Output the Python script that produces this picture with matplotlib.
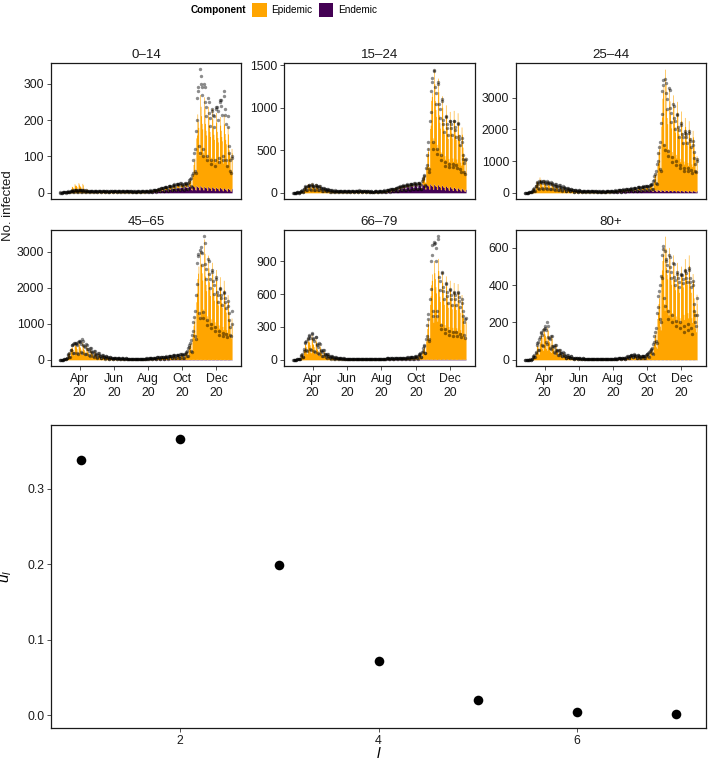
import matplotlib
matplotlib.use('Agg')
import matplotlib.pyplot as plt
import matplotlib.dates as mdates
from matplotlib.patches import Patch
from matplotlib.ticker import FormatStrFormatter
import numpy as np
import pandas as pd

plt.rcParams.update({
    'font.family': 'Liberation Sans',
    'mathtext.fontset': 'custom',
    'mathtext.it': 'Liberation Sans:italic',
    'mathtext.rm': 'Liberation Sans',
})

# ------------------------------------------------------------
# Data. Daily series start on first_day,
# one row per week (Wed..Tue). Endemic part starts on endemic_from.
# ------------------------------------------------------------
first_day = '2020-02-26'
endemic_from = '2020-07-29'

age_groups = ['0–14', '15–24', '25–44', '45–65', '66–79', '80+']
y_breaks = [[0, 100, 200, 300], [0, 500, 1000, 1500], [0, 1000, 2000, 3000],
            [0, 1000, 2000, 3000], [0, 300, 600, 900], [0, 200, 400, 600]]

obs_0_14 = [
    [0, 1, 0, 0, 0, 1, 1], [1, 2, 2, 1, 0, 2, 3], [3, 4, 3, 2, 1, 4, 5], [6, 7, 5, 3, 2, 8, 7],
    [8, 7, 6, 3, 3, 9, 8], [7, 8, 7, 3, 2, 8, 8], [6, 7, 5, 2, 3, 7, 6], [6, 5, 5, 2, 2, 6, 6],
    [5, 4, 4, 2, 2, 5, 5], [4, 5, 4, 2, 1, 5, 5], [5, 4, 4, 2, 2, 5, 4], [4, 5, 4, 2, 2, 5, 5],
    [4, 4, 3, 1, 2, 4, 4], [5, 4, 4, 2, 1, 5, 5], [4, 5, 4, 2, 2, 5, 5], [5, 5, 4, 2, 2, 5, 5],
    [5, 4, 4, 2, 2, 6, 5], [4, 5, 4, 2, 1, 5, 5], [4, 4, 3, 2, 1, 4, 4], [4, 3, 3, 1, 2, 4, 4],
    [4, 4, 3, 2, 1, 4, 4], [5, 4, 4, 2, 2, 5, 5], [5, 5, 4, 2, 2, 6, 5], [7, 6, 6, 3, 2, 7, 7],
    [9, 8, 7, 4, 3, 9, 9], [11, 11, 10, 5, 4, 12, 12], [14, 13, 12, 6, 5, 15, 15],
    [17, 16, 14, 7, 6, 18, 18], [19, 18, 16, 8, 7, 20, 21], [23, 22, 19, 10, 8, 24, 24],
    [25, 23, 21, 10, 9, 26, 27], [24, 22, 20, 10, 9, 25, 26], [27, 25, 22, 11, 10, 28, 30],
    [36, 38, 40, 18, 16, 50, 55], [90, 110, 120, 60, 55, 170, 200],
    [260, 280, 290, 130, 110, 340, 320], [300, 290, 270, 120, 100, 300, 290],
    [250, 235, 210, 100, 90, 260, 250], [220, 205, 185, 90, 80, 230, 225],
    [215, 210, 180, 90, 75, 235, 230], [235, 225, 200, 95, 85, 255, 250],
    [255, 240, 215, 100, 90, 280, 265], [230, 215, 190, 90, 75, 210, 180],
    [130, 110, 90, 60, 55, 100, 95],
]
epi_0_14 = [
    [0, 0, 0, 0, 0, 1, 0], [1, 1, 1, 1, 0, 2, 2], [5, 5, 4, 3, 2, 8, 7], [18, 17, 15, 8, 7, 25, 21],
    [21, 20, 17, 9, 8, 28, 24], [20, 18, 16, 8, 7, 26, 22], [9, 8, 7, 4, 3, 12, 10],
    [5, 5, 4, 2, 2, 7, 6], [4, 4, 3, 2, 1, 5, 4], [4, 3, 3, 2, 1, 5, 4], [4, 4, 3, 2, 1, 5, 4],
    [4, 3, 3, 1, 1, 5, 4], [3, 3, 2, 1, 1, 4, 3], [4, 3, 3, 1, 1, 5, 4], [4, 4, 3, 2, 1, 5, 4],
    [4, 3, 3, 2, 1, 5, 4], [4, 4, 3, 1, 1, 5, 4], [4, 3, 3, 1, 1, 5, 4], [3, 3, 2, 1, 1, 4, 3],
    [3, 3, 2, 1, 1, 4, 3], [3, 3, 2, 1, 1, 4, 3], [4, 3, 3, 1, 1, 5, 4], [4, 4, 3, 2, 1, 5, 4],
    [4, 4, 4, 2, 2, 6, 5], [5, 5, 4, 2, 2, 7, 6], [6, 6, 5, 2, 2, 8, 7], [6, 6, 5, 2, 2, 8, 7],
    [7, 6, 5, 3, 2, 9, 8], [7, 7, 6, 3, 3, 10, 8], [8, 7, 6, 3, 3, 10, 9], [7, 7, 6, 3, 3, 10, 8],
    [8, 7, 6, 3, 3, 10, 9], [9, 8, 7, 4, 3, 12, 10], [15, 17, 18, 9, 8, 30, 30],
    [60, 70, 80, 50, 48, 130, 140], [200, 180, 165, 105, 95, 250, 220],
    [196, 176, 162, 103, 93, 245, 216], [176, 158, 145, 92, 84, 220, 194],
    [172, 155, 142, 90, 82, 215, 189], [164, 148, 135, 86, 78, 205, 180],
    [156, 140, 129, 82, 74, 195, 172], [160, 144, 132, 84, 76, 200, 176],
    [152, 137, 125, 80, 72, 170, 150], [110, 100, 90, 60, 55, 110, 100],
]
end_0_14 = [
    [2, 2, 1, 1, 1, 2, 2], [3, 2, 2, 1, 1, 3, 3], [4, 4, 4, 2, 2, 5, 4], [6, 6, 5, 3, 3, 7, 6],
    [8, 7, 7, 4, 4, 9, 8], [9, 9, 8, 5, 4, 11, 10], [11, 10, 10, 6, 5, 13, 12],
    [13, 12, 11, 7, 6, 15, 14], [14, 14, 13, 8, 7, 17, 15], [16, 15, 14, 9, 8, 19, 17],
    [17, 16, 15, 9, 8, 20, 18], [18, 17, 16, 9, 8, 21, 19], [18, 17, 16, 9, 8, 21, 19],
    [17, 16, 15, 9, 8, 20, 18], [16, 15, 14, 9, 8, 19, 17], [15, 14, 14, 8, 7, 18, 16],
    [14, 14, 13, 8, 7, 17, 15], [14, 13, 12, 7, 6, 16, 14], [13, 12, 11, 7, 6, 15, 14],
    [12, 11, 11, 6, 6, 14, 13], [11, 10, 10, 6, 5, 13, 12], [10, 10, 9, 5, 5, 12, 11],
]

obs_15_24 = [
    [0, 1, 0, 0, 0, 1, 1], [4, 5, 4, 2, 2, 6, 5], [20, 25, 28, 15, 14, 40, 45],
    [70, 75, 68, 35, 30, 85, 80], [90, 88, 78, 40, 35, 95, 98], [85, 82, 72, 38, 32, 92, 88],
    [76, 72, 64, 32, 28, 80, 78], [57, 54, 48, 24, 21, 60, 58], [43, 40, 36, 18, 16, 45, 44],
    [33, 32, 28, 14, 12, 35, 34], [27, 25, 22, 11, 10, 28, 27], [24, 22, 20, 10, 9, 25, 24],
    [21, 20, 18, 9, 8, 22, 21], [19, 18, 16, 8, 7, 20, 20], [21, 20, 18, 9, 8, 22, 22],
    [24, 22, 20, 10, 9, 25, 25], [27, 25, 22, 11, 10, 28, 27], [24, 22, 20, 10, 9, 25, 24],
    [19, 18, 16, 8, 7, 20, 20], [17, 16, 14, 7, 6, 18, 18], [15, 14, 13, 6, 6, 16, 16],
    [17, 16, 14, 7, 6, 18, 18], [21, 20, 18, 9, 8, 22, 22], [28, 27, 24, 12, 10, 30, 30],
    [38, 36, 32, 16, 14, 40, 40], [48, 45, 40, 20, 18, 50, 50], [62, 58, 52, 26, 23, 65, 65],
    [76, 72, 64, 32, 28, 80, 80], [90, 86, 76, 38, 33, 95, 95], [100, 94, 84, 42, 37, 105, 105],
    [109, 104, 92, 46, 40, 115, 115], [109, 104, 92, 46, 40, 115, 118],
    [114, 108, 96, 48, 42, 140, 160], [180, 200, 210, 95, 85, 290, 330],
    [450, 520, 600, 280, 250, 850, 950], [1200, 1300, 1350, 600, 520, 1450, 1430],
    [1240, 1170, 1040, 520, 455, 1300, 1280], [1045, 990, 880, 440, 385, 1100, 1080],
    [855, 810, 720, 360, 315, 900, 890], [810, 765, 680, 340, 300, 850, 840],
    [810, 765, 680, 340, 300, 850, 840], [780, 740, 655, 330, 290, 820, 810],
    [665, 630, 560, 280, 245, 650, 600], [450, 400, 350, 250, 220, 390, 400],
]
epi_15_24 = [
    [1, 0, 0, 0, 0, 1, 1], [3, 3, 2, 1, 1, 4, 3], [25, 30, 30, 15, 14, 45, 50],
    [80, 78, 66, 33, 31, 110, 94], [90, 84, 72, 36, 34, 120, 102], [83, 77, 66, 33, 31, 110, 94],
    [71, 67, 57, 29, 27, 95, 81], [45, 42, 36, 18, 17, 60, 51], [34, 32, 27, 14, 13, 45, 38],
    [26, 25, 21, 11, 10, 35, 30], [21, 20, 17, 8, 8, 28, 24], [19, 18, 15, 8, 7, 25, 21],
    [17, 15, 13, 7, 6, 22, 19], [15, 14, 12, 6, 6, 20, 17], [17, 15, 13, 7, 6, 22, 19],
    [19, 18, 15, 8, 7, 25, 21], [21, 20, 17, 8, 8, 28, 24], [19, 18, 15, 8, 7, 25, 21],
    [15, 14, 12, 6, 6, 20, 17], [14, 13, 11, 5, 5, 18, 15], [12, 11, 10, 5, 4, 16, 14],
    [14, 13, 11, 5, 5, 18, 15], [15, 14, 12, 6, 6, 20, 17], [17, 15, 13, 7, 6, 22, 19],
    [19, 18, 15, 8, 7, 25, 21], [19, 18, 15, 8, 7, 25, 21], [19, 18, 15, 8, 7, 25, 21],
    [19, 18, 15, 8, 7, 25, 21], [19, 18, 15, 8, 7, 25, 21], [19, 18, 15, 8, 7, 25, 21],
    [19, 18, 15, 8, 7, 25, 21], [19, 18, 15, 8, 7, 25, 21], [25, 28, 30, 14, 13, 50, 55],
    [100, 110, 120, 80, 75, 190, 210], [350, 400, 450, 260, 240, 650, 700],
    [1000, 1050, 1100, 600, 550, 1350, 1190], [1000, 900, 825, 525, 475, 1250, 1100],
    [840, 756, 693, 441, 399, 1050, 924], [760, 684, 627, 399, 361, 950, 836],
    [704, 634, 581, 370, 334, 880, 774], [720, 648, 594, 378, 342, 900, 792],
    [704, 634, 581, 370, 334, 880, 774], [640, 576, 528, 336, 304, 720, 640],
    [500, 430, 370, 240, 220, 380, 340],
]
end_15_24 = [
    [3, 2, 2, 1, 1, 3, 3], [7, 6, 6, 4, 3, 8, 7], [17, 16, 15, 9, 8, 20, 18],
    [30, 28, 26, 16, 14, 35, 32], [42, 40, 38, 22, 20, 50, 45], [55, 52, 49, 29, 26, 65, 58],
    [68, 64, 60, 36, 32, 80, 72], [76, 72, 68, 40, 36, 90, 81], [85, 80, 75, 45, 40, 100, 90],
    [89, 84, 79, 47, 42, 105, 94], [93, 88, 82, 50, 44, 110, 99], [93, 88, 82, 50, 44, 110, 99],
    [92, 86, 81, 49, 43, 108, 97], [89, 84, 79, 47, 42, 105, 94], [85, 80, 75, 45, 40, 100, 90],
    [78, 74, 69, 41, 37, 92, 83], [72, 68, 64, 38, 34, 85, 76], [66, 62, 58, 35, 31, 78, 70],
    [60, 56, 52, 32, 28, 70, 63], [53, 50, 46, 28, 25, 62, 56], [47, 44, 41, 25, 22, 55, 50],
    [38, 36, 34, 20, 18, 45, 40],
]

obs_25_44 = [
    [4, 5, 4, 2, 2, 6, 5], [20, 25, 28, 14, 12, 40, 45], [100, 120, 140, 70, 60, 200, 220],
    [330, 315, 280, 140, 125, 360, 350], [360, 345, 305, 150, 135, 385, 380],
    [345, 325, 290, 145, 125, 360, 355], [315, 300, 265, 130, 115, 330, 325],
    [265, 250, 225, 110, 100, 280, 275], [228, 215, 190, 95, 85, 240, 235],
    [190, 180, 160, 80, 70, 200, 195], [152, 145, 128, 64, 56, 160, 158],
    [124, 117, 104, 52, 46, 130, 128], [95, 90, 80, 40, 35, 100, 98], [76, 72, 64, 32, 28, 80, 78],
    [66, 63, 56, 28, 25, 70, 70], [57, 54, 48, 24, 21, 60, 60], [57, 54, 48, 24, 21, 60, 58],
    [52, 50, 44, 22, 19, 55, 55], [48, 45, 40, 20, 18, 50, 50], [43, 40, 36, 18, 16, 45, 45],
    [43, 40, 36, 18, 16, 45, 46], [52, 50, 44, 22, 19, 55, 56], [62, 58, 52, 26, 23, 65, 66],
    [76, 72, 64, 32, 28, 80, 82], [95, 90, 80, 40, 35, 100, 100], [105, 99, 88, 44, 38, 110, 112],
    [124, 117, 104, 52, 46, 130, 132], [142, 135, 120, 60, 52, 150, 152],
    [162, 153, 136, 68, 60, 170, 172], [180, 171, 152, 76, 66, 190, 192],
    [200, 189, 168, 84, 74, 210, 215], [218, 207, 184, 92, 80, 230, 240],
    [260, 270, 280, 130, 115, 380, 420], [520, 600, 680, 300, 270, 900, 1000],
    [1250, 1450, 1600, 750, 680, 2200, 2500], [3200, 3400, 3550, 1500, 1350, 3600, 3450],
    [3135, 2970, 2640, 1320, 1155, 3300, 3250], [2660, 2520, 2240, 1120, 980, 2800, 2750],
    [2375, 2250, 2000, 1000, 875, 2500, 2450], [2090, 1980, 1760, 880, 770, 2200, 2150],
    [1850, 1755, 1560, 780, 680, 1950, 1900], [1850, 1755, 1560, 780, 680, 1950, 1900],
    [1710, 1620, 1440, 720, 630, 1650, 1500], [1300, 1100, 900, 700, 650, 1000, 1080],
]
epi_25_44 = [
    [4, 3, 3, 2, 1, 5, 4], [15, 18, 20, 10, 9, 30, 35], [130, 150, 170, 80, 70, 250, 280],
    [375, 350, 300, 150, 140, 500, 425], [315, 295, 250, 125, 120, 420, 355],
    [285, 265, 230, 115, 105, 380, 325], [255, 240, 205, 100, 95, 340, 290],
    [210, 195, 170, 85, 80, 280, 240], [180, 170, 145, 70, 65, 240, 205],
    [150, 140, 120, 60, 55, 200, 170], [120, 112, 96, 48, 45, 160, 136],
    [98, 91, 78, 39, 36, 130, 110], [75, 70, 60, 30, 28, 100, 85], [60, 56, 48, 24, 22, 80, 68],
    [52, 49, 42, 21, 20, 70, 60], [45, 42, 36, 18, 17, 60, 51], [45, 42, 36, 18, 17, 60, 51],
    [41, 38, 33, 16, 15, 55, 47], [38, 35, 30, 15, 14, 50, 42], [34, 31, 27, 13, 12, 45, 38],
    [34, 31, 27, 13, 12, 45, 38], [41, 38, 33, 16, 15, 55, 47], [38, 35, 30, 15, 14, 50, 42],
    [38, 35, 30, 15, 14, 50, 42], [41, 38, 33, 16, 15, 55, 47], [41, 38, 33, 16, 15, 55, 47],
    [41, 38, 33, 16, 15, 55, 47], [45, 42, 36, 18, 17, 60, 51], [52, 49, 42, 21, 20, 70, 60],
    [64, 60, 51, 25, 24, 85, 72], [75, 70, 60, 30, 28, 100, 85], [90, 84, 72, 36, 34, 120, 102],
    [140, 150, 160, 70, 65, 230, 260], [450, 500, 550, 250, 230, 750, 850],
    [1200, 1300, 1450, 700, 650, 2000, 2300], [2900, 3100, 3300, 1500, 1400, 3800, 3340],
    [2560, 2300, 2110, 1345, 1215, 3200, 2815], [2400, 2160, 1980, 1260, 1140, 3000, 2640],
    [2240, 2015, 1850, 1175, 1065, 2800, 2465], [2000, 1800, 1650, 1050, 950, 2500, 2200],
    [1840, 1655, 1520, 965, 875, 2300, 2025], [1760, 1585, 1450, 925, 835, 2200, 1935],
    [1680, 1510, 1385, 880, 800, 1900, 1700], [1400, 1200, 1000, 700, 650, 1100, 1050],
]
end_25_44 = [
    [17, 16, 15, 9, 8, 20, 18], [30, 28, 26, 16, 14, 35, 32], [42, 40, 38, 22, 20, 50, 45],
    [55, 52, 49, 29, 26, 65, 58], [68, 64, 60, 36, 32, 80, 72], [76, 72, 68, 40, 36, 90, 81],
    [85, 80, 75, 45, 40, 100, 90], [89, 84, 79, 47, 42, 105, 94], [93, 88, 82, 50, 44, 110, 99],
    [93, 88, 82, 50, 44, 110, 99], [93, 88, 82, 50, 44, 110, 99], [92, 86, 81, 49, 43, 108, 97],
    [89, 84, 79, 47, 42, 105, 94], [85, 80, 75, 45, 40, 100, 90], [81, 76, 71, 43, 38, 95, 85],
    [76, 72, 68, 40, 36, 90, 81], [72, 68, 64, 38, 34, 85, 76], [68, 64, 60, 36, 32, 80, 72],
    [66, 62, 58, 35, 31, 78, 70], [64, 60, 56, 34, 30, 75, 68], [61, 58, 54, 32, 29, 72, 65],
    [60, 56, 52, 32, 28, 70, 63],
]

obs_45_65 = [
    [2, 3, 2, 1, 1, 4, 3], [25, 30, 35, 18, 15, 55, 60], [130, 160, 190, 90, 80, 260, 280],
    [400, 420, 430, 200, 180, 460, 470], [475, 450, 400, 200, 175, 500, 510],
    [515, 490, 430, 215, 190, 570, 530], [410, 385, 345, 170, 150, 430, 420],
    [305, 290, 255, 130, 110, 320, 315], [238, 225, 200, 100, 88, 250, 245],
    [170, 162, 144, 72, 63, 180, 178], [124, 117, 104, 52, 46, 130, 128],
    [95, 90, 80, 40, 35, 100, 98], [76, 72, 64, 32, 28, 80, 78], [57, 54, 48, 24, 21, 60, 60],
    [48, 45, 40, 20, 18, 50, 50], [43, 40, 36, 18, 16, 45, 45], [38, 36, 32, 16, 14, 40, 40],
    [33, 32, 28, 14, 12, 35, 35], [28, 27, 24, 12, 10, 30, 30], [27, 25, 22, 11, 10, 28, 28],
    [27, 25, 22, 11, 10, 28, 29], [33, 32, 28, 14, 12, 35, 36], [43, 40, 36, 18, 16, 45, 46],
    [52, 50, 44, 22, 19, 55, 56], [62, 58, 52, 26, 23, 65, 66], [71, 68, 60, 30, 26, 75, 76],
    [86, 81, 72, 36, 32, 90, 92], [95, 90, 80, 40, 35, 100, 102], [114, 108, 96, 48, 42, 120, 122],
    [133, 126, 112, 56, 49, 140, 142], [142, 135, 120, 60, 52, 150, 152],
    [152, 144, 128, 64, 56, 160, 165], [200, 220, 240, 110, 95, 320, 350],
    [420, 480, 540, 240, 215, 700, 800], [1050, 1200, 1350, 650, 580, 1800, 2100],
    [2700, 2900, 2950, 1300, 1150, 3050, 3000], [3135, 2970, 2640, 1320, 1155, 3440, 3250],
    [2660, 2520, 2240, 1120, 980, 2800, 2750], [2375, 2250, 2000, 1000, 875, 2500, 2450],
    [2185, 2070, 1840, 920, 805, 2300, 2260], [1900, 1800, 1600, 800, 700, 2000, 1960],
    [1805, 1710, 1520, 760, 665, 1900, 1870], [1710, 1620, 1440, 720, 630, 1650, 1500],
    [1300, 1100, 900, 700, 650, 1350, 1000],
]
epi_45_65 = [
    [2, 2, 2, 1, 1, 3, 3], [18, 22, 25, 12, 11, 40, 45], [160, 190, 220, 100, 90, 300, 330],
    [360, 336, 288, 144, 134, 480, 408], [390, 364, 312, 156, 146, 520, 442],
    [375, 350, 300, 150, 140, 500, 425], [300, 280, 240, 120, 112, 400, 340],
    [225, 210, 180, 90, 84, 300, 255], [188, 175, 150, 75, 70, 250, 212],
    [135, 126, 108, 54, 50, 180, 153], [98, 91, 78, 39, 36, 130, 110], [75, 70, 60, 30, 28, 100, 85],
    [60, 56, 48, 24, 22, 80, 68], [45, 42, 36, 18, 17, 60, 51], [38, 35, 30, 15, 14, 50, 42],
    [34, 31, 27, 13, 12, 45, 38], [30, 28, 24, 12, 11, 40, 34], [26, 24, 21, 10, 10, 35, 30],
    [22, 21, 18, 9, 8, 30, 26], [21, 20, 17, 8, 8, 28, 24], [21, 20, 17, 8, 8, 28, 24],
    [26, 24, 21, 10, 10, 35, 30], [30, 28, 24, 12, 11, 40, 34], [38, 35, 30, 15, 14, 50, 42],
    [44, 41, 35, 17, 16, 58, 49], [50, 47, 40, 20, 19, 67, 57], [60, 56, 48, 24, 22, 80, 68],
    [68, 63, 54, 27, 25, 90, 76], [79, 74, 63, 32, 29, 105, 89], [88, 83, 71, 35, 33, 118, 100],
    [99, 92, 79, 40, 37, 132, 112], [102, 95, 82, 41, 38, 136, 116],
    [170, 190, 210, 95, 85, 280, 310], [380, 420, 470, 210, 190, 620, 700],
    [950, 1050, 1200, 600, 550, 1600, 1850], [2250, 2400, 2600, 1250, 1150, 3000, 2640],
    [2680, 2410, 2210, 1405, 1275, 3350, 2950], [2320, 2090, 1915, 1220, 1100, 2900, 2550],
    [2160, 1945, 1780, 1135, 1025, 2700, 2375], [2000, 1800, 1650, 1050, 950, 2500, 2200],
    [1840, 1655, 1520, 965, 875, 2300, 2025], [1760, 1585, 1450, 925, 835, 2200, 1935],
    [1600, 1440, 1320, 840, 760, 1800, 1600], [1300, 1100, 900, 650, 600, 1150, 1000],
]
end_45_65 = [
    [4, 4, 4, 2, 2, 5, 4], [5, 5, 4, 3, 2, 6, 5], [6, 6, 5, 3, 3, 7, 6], [7, 6, 6, 4, 3, 8, 7],
    [8, 7, 7, 4, 4, 9, 8], [8, 8, 8, 4, 4, 10, 9], [9, 9, 8, 5, 4, 11, 10],
    [10, 10, 9, 5, 5, 12, 11], [11, 10, 10, 6, 5, 13, 12], [12, 11, 10, 6, 6, 14, 13],
    [12, 11, 10, 6, 6, 14, 13], [12, 11, 10, 6, 6, 14, 13], [12, 11, 10, 6, 6, 14, 13],
    [12, 11, 10, 6, 6, 14, 13], [11, 10, 10, 6, 5, 13, 12], [11, 10, 10, 6, 5, 13, 12],
    [11, 10, 10, 6, 5, 13, 12], [11, 10, 10, 6, 5, 13, 12], [10, 10, 9, 5, 5, 12, 11],
    [10, 10, 9, 5, 5, 12, 11], [10, 10, 9, 5, 5, 12, 11], [10, 10, 9, 5, 5, 12, 11],
]

obs_66_79 = [
    [0, 0, 0, 0, 0, 0, 1], [4, 5, 6, 3, 3, 10, 12], [35, 45, 55, 30, 28, 80, 95],
    [150, 160, 175, 90, 80, 190, 200], [230, 220, 195, 100, 90, 245, 235],
    [200, 190, 170, 85, 75, 210, 205], [142, 135, 120, 60, 52, 150, 148],
    [86, 81, 72, 36, 32, 90, 88], [52, 50, 44, 22, 19, 55, 54], [33, 32, 28, 14, 12, 35, 34],
    [24, 22, 20, 10, 9, 25, 25], [17, 16, 14, 7, 6, 18, 18], [13, 13, 11, 6, 5, 14, 14],
    [11, 11, 10, 5, 4, 12, 12], [10, 9, 8, 4, 4, 10, 10], [10, 9, 8, 4, 3, 10, 10],
    [9, 8, 7, 4, 3, 9, 9], [9, 8, 7, 4, 3, 9, 9], [8, 7, 6, 3, 3, 8, 8], [8, 7, 6, 3, 3, 8, 8],
    [8, 7, 6, 3, 3, 8, 9], [10, 9, 8, 4, 4, 10, 10], [11, 11, 10, 5, 4, 12, 12],
    [12, 12, 10, 5, 5, 13, 13], [13, 13, 11, 6, 5, 14, 14], [14, 14, 12, 6, 5, 15, 15],
    [16, 15, 14, 7, 6, 17, 17], [18, 17, 15, 8, 7, 19, 19], [20, 19, 17, 8, 7, 21, 21],
    [23, 22, 19, 10, 8, 24, 24], [26, 24, 22, 11, 9, 27, 28], [33, 32, 28, 14, 12, 38, 42],
    [50, 55, 58, 26, 23, 75, 85], [110, 125, 140, 65, 58, 190, 220],
    [320, 370, 420, 190, 170, 560, 650], [900, 960, 1050, 450, 400, 1080, 1060],
    [1070, 1020, 900, 450, 400, 1130, 1100], [760, 720, 640, 320, 280, 800, 790],
    [665, 630, 560, 280, 245, 700, 690], [620, 585, 520, 260, 230, 650, 640],
    [590, 560, 500, 250, 220, 620, 610], [590, 560, 500, 250, 220, 620, 610],
    [570, 540, 480, 240, 210, 560, 520], [450, 400, 350, 230, 200, 370, 380],
]
epi_66_79 = [
    [0, 0, 0, 0, 0, 0, 0], [3, 3, 4, 2, 2, 7, 8], [40, 50, 60, 30, 28, 90, 100],
    [150, 140, 120, 60, 56, 200, 170], [172, 161, 138, 69, 64, 230, 196],
    [150, 140, 120, 60, 56, 200, 170], [105, 98, 84, 42, 39, 140, 119], [68, 63, 54, 27, 25, 90, 76],
    [41, 38, 33, 16, 15, 55, 47], [26, 24, 21, 10, 10, 35, 30], [19, 18, 15, 8, 7, 25, 21],
    [14, 13, 11, 5, 5, 18, 15], [10, 10, 8, 4, 4, 14, 12], [9, 8, 7, 4, 3, 12, 10],
    [8, 7, 6, 3, 3, 10, 8], [8, 7, 6, 3, 3, 10, 8], [7, 6, 5, 3, 3, 9, 8], [7, 6, 5, 3, 3, 9, 8],
    [6, 6, 5, 2, 2, 8, 7], [6, 6, 5, 2, 2, 8, 7], [6, 6, 5, 2, 2, 8, 7], [8, 7, 6, 3, 3, 10, 8],
    [7, 6, 5, 3, 3, 9, 8], [8, 7, 6, 3, 3, 10, 8], [8, 8, 7, 3, 3, 11, 9], [9, 8, 7, 4, 3, 12, 10],
    [9, 8, 7, 4, 3, 12, 10], [10, 10, 8, 4, 4, 14, 12], [12, 11, 10, 5, 4, 16, 14],
    [14, 13, 11, 6, 5, 19, 16], [16, 15, 13, 6, 6, 21, 18], [25, 27, 28, 12, 11, 38, 42],
    [40, 45, 48, 22, 20, 65, 75], [95, 105, 120, 55, 50, 165, 190],
    [280, 320, 370, 190, 170, 500, 580], [680, 720, 780, 380, 340, 900, 790],
    [736, 662, 607, 386, 350, 920, 810], [640, 576, 528, 336, 304, 800, 704],
    [608, 547, 502, 319, 289, 760, 669], [576, 518, 475, 302, 274, 720, 634],
    [560, 504, 462, 294, 266, 700, 616], [552, 497, 455, 290, 262, 690, 607],
    [520, 468, 429, 273, 247, 590, 530], [420, 380, 320, 210, 190, 360, 340],
]
end_66_79 = [
    [3, 2, 2, 1, 1, 3, 3], [3, 2, 2, 1, 1, 3, 3], [3, 2, 2, 1, 1, 3, 3], [3, 2, 2, 1, 1, 3, 3],
    [4, 4, 4, 2, 2, 5, 4], [4, 4, 4, 2, 2, 5, 4], [4, 4, 4, 2, 2, 5, 4], [4, 4, 4, 2, 2, 5, 4],
    [6, 6, 5, 3, 3, 7, 6], [6, 6, 5, 3, 3, 7, 6], [6, 6, 5, 3, 3, 7, 6], [6, 6, 5, 3, 3, 7, 6],
    [6, 6, 5, 3, 3, 7, 6], [6, 6, 5, 3, 3, 7, 6], [6, 6, 5, 3, 3, 7, 6], [6, 6, 5, 3, 3, 7, 6],
    [6, 6, 5, 3, 3, 7, 6], [6, 6, 5, 3, 3, 7, 6], [6, 6, 5, 3, 3, 7, 6], [6, 6, 5, 3, 3, 7, 6],
    [6, 6, 5, 3, 3, 7, 6], [6, 6, 5, 3, 3, 7, 6],
]

obs_80 = [
    [0, 0, 0, 0, 0, 0, 0], [1, 1, 2, 1, 1, 2, 3], [15, 20, 25, 15, 14, 35, 40],
    [80, 90, 95, 55, 50, 110, 120], [150, 145, 135, 80, 72, 160, 165],
    [180, 170, 160, 95, 85, 200, 180], [124, 117, 110, 65, 58, 130, 125],
    [76, 72, 68, 40, 36, 80, 78], [52, 50, 47, 28, 25, 55, 54], [38, 36, 34, 20, 18, 40, 39],
    [24, 22, 21, 12, 11, 25, 25], [17, 16, 15, 9, 8, 18, 18], [11, 11, 10, 6, 5, 12, 12],
    [10, 9, 8, 5, 4, 10, 10], [8, 7, 7, 4, 4, 8, 8], [7, 6, 6, 4, 3, 7, 7], [6, 5, 5, 3, 3, 6, 6],
    [6, 5, 5, 3, 3, 6, 6], [5, 4, 4, 2, 2, 5, 5], [5, 4, 4, 2, 2, 5, 5], [5, 4, 4, 2, 2, 5, 5],
    [6, 5, 5, 3, 3, 6, 6], [7, 6, 6, 4, 3, 7, 7], [8, 7, 7, 4, 4, 8, 8], [9, 8, 8, 4, 4, 9, 9],
    [11, 11, 10, 6, 5, 12, 13], [19, 18, 17, 10, 9, 20, 22], [27, 25, 24, 14, 13, 30, 28],
    [24, 22, 21, 12, 11, 25, 24], [19, 18, 17, 10, 9, 20, 20], [21, 20, 19, 11, 10, 22, 24],
    [30, 32, 34, 18, 16, 40, 45], [55, 60, 65, 35, 32, 85, 95], [130, 150, 170, 100, 90, 250, 280],
    [340, 370, 400, 220, 200, 450, 440], [560, 590, 610, 330, 290, 580, 540],
    [530, 505, 475, 260, 220, 560, 550], [495, 470, 440, 240, 200, 520, 510],
    [445, 425, 400, 210, 180, 470, 460], [435, 415, 390, 200, 170, 460, 455],
    [455, 430, 410, 180, 150, 480, 475], [465, 440, 415, 190, 160, 490, 480],
    [435, 415, 390, 170, 140, 420, 400], [300, 260, 240, 200, 180, 330, 240],
]
epi_80 = [
    [0, 0, 0, 0, 0, 0, 0], [1, 1, 1, 1, 1, 2, 2], [15, 20, 25, 12, 11, 35, 40],
    [80, 75, 70, 35, 30, 100, 90], [136, 128, 119, 60, 51, 170, 153],
    [140, 131, 122, 61, 52, 175, 158], [104, 98, 91, 46, 39, 130, 117],
    [68, 64, 60, 30, 26, 85, 76], [48, 45, 42, 21, 18, 60, 54], [32, 30, 28, 14, 12, 40, 36],
    [20, 19, 18, 9, 8, 25, 22], [14, 14, 13, 6, 5, 18, 16], [10, 9, 8, 4, 4, 12, 11],
    [8, 8, 7, 4, 3, 10, 9], [6, 6, 6, 3, 2, 8, 7], [6, 5, 5, 2, 2, 7, 6], [5, 4, 4, 2, 2, 6, 5],
    [5, 4, 4, 2, 2, 6, 5], [4, 4, 4, 2, 2, 5, 4], [4, 4, 4, 2, 2, 5, 4], [4, 4, 4, 2, 2, 5, 4],
    [5, 4, 4, 2, 2, 6, 5], [6, 5, 5, 2, 2, 7, 6], [6, 6, 6, 3, 2, 8, 7], [7, 7, 6, 3, 3, 9, 8],
    [10, 9, 8, 4, 4, 12, 11], [12, 11, 10, 5, 4, 15, 14], [20, 19, 18, 9, 8, 25, 22],
    [20, 19, 18, 9, 8, 25, 22], [16, 15, 14, 7, 6, 20, 18], [16, 15, 14, 7, 6, 20, 18],
    [25, 27, 28, 12, 11, 38, 42], [45, 50, 55, 25, 22, 75, 85], [120, 135, 155, 70, 62, 220, 250],
    [300, 330, 360, 180, 160, 450, 480], [530, 560, 600, 300, 265, 660, 595],
    [492, 456, 432, 270, 240, 600, 540], [459, 426, 403, 252, 224, 560, 504],
    [426, 395, 374, 234, 208, 520, 468], [410, 380, 360, 225, 200, 500, 450],
    [443, 410, 389, 243, 216, 540, 486], [459, 426, 403, 252, 224, 560, 504],
    [410, 380, 360, 225, 200, 460, 420], [330, 290, 260, 170, 150, 350, 300],
]
end_80 = [
    [1, 1, 1, 0, 0, 1, 1], [1, 1, 1, 0, 0, 1, 1], [1, 1, 1, 0, 0, 1, 1], [1, 1, 1, 0, 0, 1, 1],
    [1, 1, 1, 0, 0, 1, 1], [1, 1, 1, 0, 0, 1, 1], [1, 1, 1, 0, 0, 1, 1], [1, 1, 1, 0, 0, 1, 1],
    [1, 1, 1, 0, 0, 1, 1], [1, 1, 1, 0, 0, 1, 1], [1, 1, 1, 0, 0, 1, 1], [1, 1, 1, 0, 0, 1, 1],
    [1, 1, 1, 0, 0, 1, 1], [1, 1, 1, 0, 0, 1, 1], [1, 1, 1, 0, 0, 1, 1], [1, 1, 1, 0, 0, 1, 1],
    [1, 1, 1, 0, 0, 1, 1], [1, 1, 1, 0, 0, 1, 1], [1, 1, 1, 0, 0, 1, 1], [1, 1, 1, 0, 0, 1, 1],
    [1, 1, 1, 0, 0, 1, 1], [1, 1, 1, 0, 0, 1, 1],
]

observed = [obs_0_14, obs_15_24, obs_25_44, obs_45_65, obs_66_79, obs_80]
epidemic = [epi_0_14, epi_15_24, epi_25_44, epi_45_65, epi_66_79, epi_80]
endemic = [end_0_14, end_15_24, end_25_44, end_45_65, end_66_79, end_80]

# lag weights
lags = [1, 2, 3, 4, 5, 6, 7]
u_l = [0.338, 0.366, 0.199, 0.072, 0.020, 0.0045, 0.0013]

# ------------------------------------------------------------
c_epi = '#FFA500'
c_end = '#440154'
W, H = 708, 759


def box(l, t, r, b):
    return [l / W, 1 - b / H, (r - l) / W, (b - t) / H]


def style(ax):
    for s in ax.spines.values():
        s.set_color('#1a1a1a')
        s.set_linewidth(0.9)
    ax.tick_params(length=2.75, width=0.6, pad=2.2, color='#333333',
                   labelsize=8.8, labelcolor='#1a1a1a')


fig = plt.figure(figsize=(W / 100, H / 100), dpi=100)
cols = [(51, 241), (284, 475), (516, 706)]
rows = [(63, 199), (230, 366)]

for i, grp in enumerate(age_groups):
    r, c = divmod(i, 3)
    ax = fig.add_axes(box(cols[c][0], rows[r][0], cols[c][1], rows[r][1]))
    obs = np.ravel(observed[i])
    epi = np.ravel(epidemic[i])
    end = np.ravel(endemic[i])
    days = pd.date_range(first_day, periods=len(obs), freq='D')
    k0 = (pd.Timestamp(endemic_from) - days[0]).days
    base = np.zeros(len(obs))
    base[k0:k0 + len(end)] = end

    ax.fill_between(days, 0, base, step='mid', color=c_end, lw=0)
    ax.fill_between(days, base, base + epi, step='mid', color=c_epi, lw=0)
    ax.scatter(days, obs, s=6, color='black', alpha=0.45, linewidths=0, zorder=3)

    x0 = mdates.date2num(days[0]) - 0.5
    x1 = mdates.date2num(days[-1]) + 0.5
    ax.set_xlim(x0 - 0.05 * (x1 - x0), x1 + 0.05 * (x1 - x0))
    top = max(obs.max(), (base + epi).max())
    ax.set_ylim(-0.05 * top, 1.05 * top)
    ax.set_yticks(y_breaks[i])
    ax.xaxis.set_major_locator(mdates.MonthLocator(bymonth=[4, 6, 8, 10, 12]))
    ax.xaxis.set_major_formatter(mdates.DateFormatter('%b\n%y'))
    style(ax)
    if r == 0:
        ax.tick_params(axis='x', length=0, labelbottom=False)
    ax.set_title(grp, fontsize=9.6, pad=3.5, color='#1a1a1a')

fig.text(8 / W, 1 - 206 / H, 'No. infected', rotation=90, ha='center', va='center',
         fontsize=9.5, color='#1a1a1a')

# legend
fig.text(191 / W, 1 - 10 / H, 'Component', fontsize=7.2, fontweight='bold',
         ha='left', va='center')
handles = [Patch(facecolor=c_epi, edgecolor='none'), Patch(facecolor=c_end, edgecolor='none')]
fig.legend(handles, ['Epidemic', 'Endemic'], ncol=2, loc='center left',
           bbox_to_anchor=(252 / W, 1 - 10 / H), frameon=False, fontsize=7.2,
           handlelength=1.45, handleheight=1.8, handletextpad=0.5, columnspacing=0.6,
           borderpad=0, borderaxespad=0)

# lag weights panel
ax = fig.add_axes(box(51, 425, 706, 728))
ax.scatter(lags, u_l, s=48, color='black', linewidths=0, zorder=3)
lo, hi = min(lags), max(lags)
ax.set_xlim(lo - 0.05 * (hi - lo), hi + 0.05 * (hi - lo))
lo, hi = min(u_l), max(u_l)
ax.set_ylim(lo - 0.05 * (hi - lo), hi + 0.05 * (hi - lo))
ax.set_xticks([2, 4, 6])
ax.set_yticks([0.0, 0.1, 0.2, 0.3])
ax.yaxis.set_major_formatter(FormatStrFormatter('%.1f'))
style(ax)
fig.text(379 / W, 1 - 753 / H, r'$l$', ha='center', va='center', fontsize=11)
fig.text(7 / W, 1 - 576 / H, r'$u_l$', rotation=90, ha='center', va='center', fontsize=11)

fig.savefig('out.png', dpi=100)
